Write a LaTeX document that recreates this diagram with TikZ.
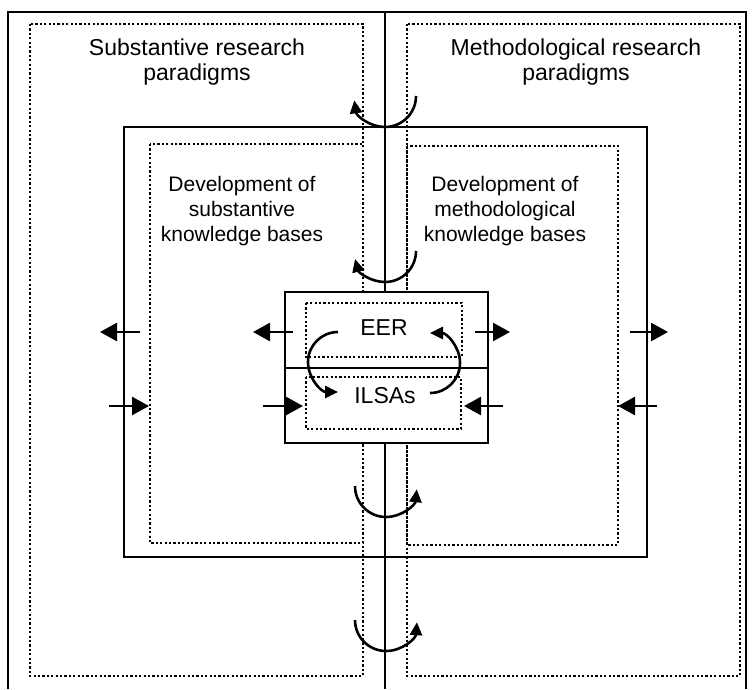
\documentclass[tikz,border=0pt]{standalone}
\usepackage{fontspec}
\setmainfont{Liberation Sans}
\usetikzlibrary{arrows.meta}

\begin{document}
\begin{tikzpicture}[x=1pt,y=1pt,yscale=-1,
		frame/.style={line width=2.6pt},
		dots/.style={line width=2.4pt,dash pattern=on 2.2pt off 2.2pt},
		txt/.style={font=\fontsize{21}{25}\selectfont,align=center},
		push/.style={line width=2.6pt,-{Triangle[length=17pt,width=18pt]}},
		swing/.style={line width=2.6pt,-{Triangle[length=13pt,width=12pt]}}]
			\useasboundingbox (0,0) rectangle (754,689);

			% Outer frame and divide
			\draw[frame] (8,689) -- (8,12) -- (746,12) -- (746,689);
			\draw[frame] (385,12) -- (385,689);

			% Research paradigms
			\draw[dots] (30,24) rectangle (363,676);
			\draw[dots] (407,24) rectangle (740,676);
			\node[txt,font=\fontsize{23}{25}\selectfont] (subpar) at (197,62) {Substantive research\\paradigms};
			\node[txt,font=\fontsize{23}{25}\selectfont] (metpar) at (576,62) {Methodological research\\paradigms};

			% Knowledge bases
			\draw[frame] (124,127) rectangle (647,557);
			\draw[dots] (150,144) rectangle (363,543);
			\draw[dots] (407,146) rectangle (618,545);
			\node[txt] (subkb) at (242,211) {Development of\\substantive\\knowledge bases};
			\node[txt] (metkb) at (505,211) {Development of\\methodological\\knowledge bases};

			% EER and ILSAs
			\draw[frame,fill=white] (285,292) rectangle (488,443);
			\draw[frame] (285,368) -- (488,368);
			\draw[dots] (306,303) rectangle (462,357);
			\draw[dots] (306,377) rectangle (461,429);
			\node[txt,font=\fontsize{23}{27}\selectfont] (eer) at (384,328) {EER};
			\node[txt,font=\fontsize{23}{27}\selectfont] (ilsas) at (385,396) {ILSAs};

			% Flows out of and into the fields
			\foreach \name/\from/\to/\y in {ol/140/100/332, il/293/253/332,
					ir/475/510/332, or/630/668/332, pl/109/149/406, ql/263/303/406,
					qr/503/464/406, pr/657/618/406}{
					\coordinate (\name a) at (\from,\y);
					\coordinate (\name b) at (\to,\y);
					\draw[push] (\name a) -- (\name b);
				}

			% Turns across the divide
			\foreach \name/\x/\y/\s/\e in {up/385/96/0/172, mid/385/251/0/165,
					low/386/486/180/6, foot/386/620/180/4}{
					\coordinate (\name) at (\x,\y);
					\draw[swing] ([shift={(\s:31pt)}]\name) arc[start angle=\s,end angle=\e,radius=31pt];
				}

			% Cycle between EER and ILSAs
			\coordinate (cl) at (338,362);
			\coordinate (cr) at (430,363);
			\draw[swing] ([shift={(270:30pt)}]cl) arc[start angle=270,end angle=90,radius=30pt];
			\draw[swing] ([shift={(90:30pt)}]cr) arc[start angle=90,end angle=-90,radius=30pt];
		\end{tikzpicture}
\end{document}
